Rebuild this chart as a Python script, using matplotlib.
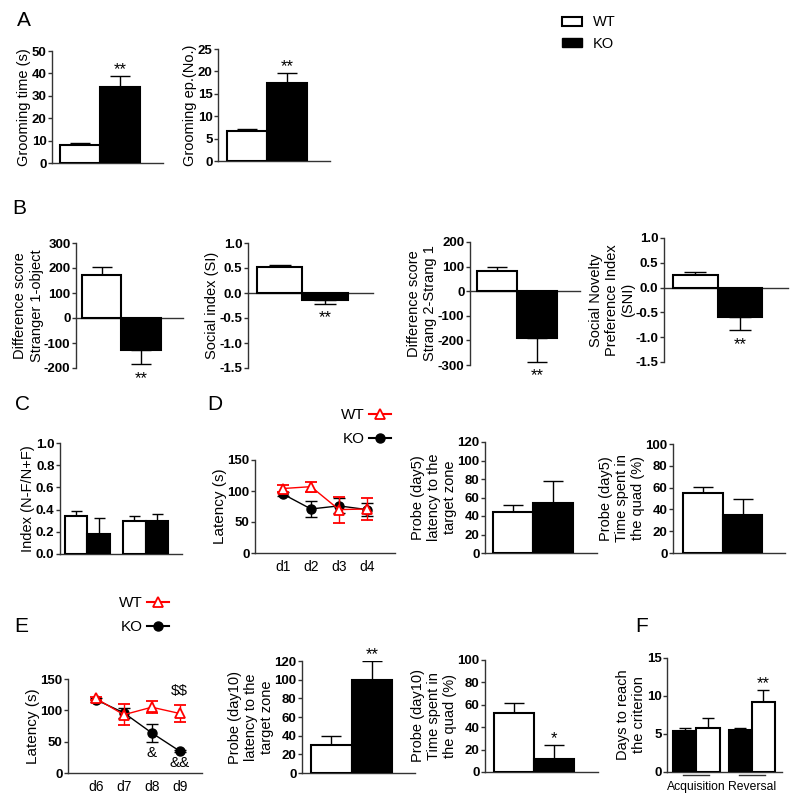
import numpy as np
import matplotlib
matplotlib.use('Agg')
import matplotlib.pyplot as plt
from matplotlib.lines import Line2D
from matplotlib.patches import Patch

plt.rcParams['font.family'] = ['Liberation Sans', 'DejaVu Sans']
plt.rcParams['axes.unicode_minus'] = False

groups = ['WT', 'KO']

# A - grooming
groom_time = [7.9, 34.0]
groom_time_err = [1.1, 4.8]
groom_ep = [6.6, 17.3]
groom_ep_err = [0.5, 2.3]

# B - three chamber test
diff_s1 = [172, -126]
diff_s1_err = [32, 59]
social_idx = [0.52, -0.14]
social_idx_err = [0.05, 0.08]
diff_s2 = [81, -192]
diff_s2_err = [18, 94]
sni = [0.26, -0.59]
sni_err = [0.06, 0.27]

# C - novel object index (two sessions, WT/KO each)
novel_idx = [0.344, 0.18, 0.30, 0.30]
novel_idx_err = [0.042, 0.14, 0.04, 0.06]

# D - water maze acquisition
days_acq = ['d1', 'd2', 'd3', 'd4']
lat_wt_acq = [104, 107, 70, 71]
lat_wt_acq_err = [5, 8, 21, 17]
lat_ko_acq = [95, 71, 76, 70]
lat_ko_acq_err = [3, 13, 12, 11]
probe5_lat = [44.3, 54.4]
probe5_lat_err = [7.2, 23.4]
probe5_quad = [54.6, 34.7]
probe5_quad_err = [6.1, 15.3]

# E - water maze reversal
days_rev = ['d6', 'd7', 'd8', 'd9']
lat_wt_rev = [119, 93, 105, 95]
lat_wt_rev_err = [3, 17, 10, 14]
lat_ko_rev = [117, 96, 64, 35]
lat_ko_rev_err = [3, 8, 14, 2]
probe10_lat = [30.4, 99.6]
probe10_lat_err = [9.4, 20.8]
probe10_quad = [52.8, 11.9]
probe10_quad_err = [9.0, 12.0]

# F - days to criterion
criterion = [5.43, 5.73, 5.51, 9.26]
criterion_err = [0.39, 1.42, 0.31, 1.54]
criterion_groups = ['Acquisition', 'Reversal']

W, H = 800, 800
fig = plt.figure(figsize=(8, 8), dpi=100)
SPINE = '#333333'
LAB = 10.5
STAR = 12


def px_axes(x0, x1, y0, y1):
    return fig.add_axes([x0 / W, 1 - y1 / H, (x1 - x0) / W, (y1 - y0) / H])


def style(ax, xlim, ylim, yticks, ylabel, lab=LAB):
    ax.set_xlim(*xlim)
    ax.set_ylim(*ylim)
    ax.set_yticks(yticks)
    for s in ['top', 'right']:
        ax.spines[s].set_visible(False)
    for s in ['left', 'bottom']:
        ax.spines[s].set_linewidth(1.0)
        ax.spines[s].set_color(SPINE)
    ax.spines['bottom'].set_position(('data', 0))
    ax.tick_params(axis='y', length=3, width=1, color=SPINE, labelsize=9.5, pad=1.0)
    ax.tick_params(axis='x', length=0)
    plt.setp(ax.get_yticklabels(), fontweight='bold')
    ax.set_ylabel(ylabel, fontsize=lab, labelpad=0.3)


def bars(ax, pos, vals, errs, colors, bar_px, stars=None):
    ax.bar(pos, vals, width=1.0, color=colors, edgecolor='black', linewidth=1.5, zorder=3)
    lo = [e if v < 0 else 0 for v, e in zip(vals, errs)]
    hi = [e if v >= 0 else 0 for v, e in zip(vals, errs)]
    ax.errorbar(pos, vals, yerr=[lo, hi], fmt='none', ecolor='black', elinewidth=1,
                capsize=bar_px / 4 * 0.72, capthick=1, zorder=2)
    ax.set_xticks([])
    if stars:
        for i, s in stars.items():
            v, e = vals[i], errs[i]
            if v >= 0:
                ax.annotate(s, (pos[i], v + e), xytext=(0, 4.5), textcoords='offset points',
                            ha='center', va='center', fontsize=STAR)
            else:
                ax.annotate(s, (pos[i], v - e), xytext=(0, -10), textcoords='offset points',
                            ha='center', va='center', fontsize=STAR)


def lines(ax, x, wt, wt_err, ko, ko_err, labels):
    ax.errorbar(x, ko, yerr=ko_err, color='black', marker='o', ms=6.5, lw=1,
                elinewidth=1, capsize=4, zorder=3)
    ax.errorbar(x, wt, yerr=wt_err, color='red', marker='^', ms=7, mfc='white',
                mec='red', mew=1.3, lw=1, elinewidth=1, capsize=4, zorder=4)
    ax.set_xticks(x)
    ax.set_xticklabels(labels, fontsize=11)
    ax.tick_params(axis='x', length=0, pad=5)


two = [0, 1]
wk = ['white', 'black']

# ---- A ----
ax = px_axes(52, 163, 51, 163)
bars(ax, two, groom_time, groom_time_err, wk, 40, {1: '**'})
style(ax, (-0.7, 2.075), (0, 50), [0, 10, 20, 30, 40, 50], 'Grooming time (s)')

ax = px_axes(218, 330, 49, 161)
bars(ax, two, groom_ep, groom_ep_err, wk, 40, {1: '**'})
style(ax, (-0.725, 2.075), (0, 25), [0, 5, 10, 15, 20, 25], 'Grooming ep.(No.)')

# ---- B ----
ax = px_axes(76, 183, 243, 368)
bars(ax, two, diff_s1, diff_s1_err, wk, 40, {1: '**'})
style(ax, (-0.65, 2.06), (-200, 300), [-200, -100, 0, 100, 200, 300],
      'Difference score\nStranger 1-object')

ax = px_axes(248, 373, 243, 368)
bars(ax, two, social_idx, social_idx_err, wk, 45, {1: '**'})
style(ax, (-0.7, 2.06), (-1.5, 1.0), [-1.5, -1.0, -0.5, 0.0, 0.5, 1.0], 'Social index (SI)')

ax = px_axes(470, 580, 242, 365)
bars(ax, two, diff_s2, diff_s2_err, wk, 40, {1: '**'})
style(ax, (-0.675, 2.075), (-300, 200), [-300, -200, -100, 0, 100, 200],
      'Difference score\nStrang 2-Strang 1')

ax = px_axes(664, 788, 238, 362)
bars(ax, two, sni, sni_err, wk, 44, {1: '**'})
style(ax, (-0.7, 2.08), (-1.5, 1.0), [-1.5, -1.0, -0.5, 0.0, 0.5, 1.0],
      'Social Novelty\nPreference Index\n(SNI)')

# ---- C ----
ax = px_axes(60, 182, 443, 554)
bars(ax, [0, 1, 2.58, 3.58], novel_idx, novel_idx_err, wk * 2, 22)
style(ax, (-0.72, 4.7), (0, 1.0), [0.0, 0.2, 0.4, 0.6, 0.8, 1.0], 'Index (N-F/N+F)')

# ---- D ----
ax = px_axes(255, 395, 460, 553)
lines(ax, [1, 2, 3, 4], lat_wt_acq, lat_wt_acq_err, lat_ko_acq, lat_ko_acq_err, days_acq)
style(ax, (0, 5), (0, 150), [0, 50, 100, 150], 'Latency (s)', 11)

ax = px_axes(485, 597, 442, 553)
bars(ax, two, probe5_lat, probe5_lat_err, wk, 40)
style(ax, (-0.7, 2.1), (0, 120), [0, 20, 40, 60, 80, 100, 120],
      'Probe (day5)\nlatency to the\ntarget zone')

ax = px_axes(673, 785, 444, 553)
bars(ax, two, probe5_quad, probe5_quad_err, wk, 40)
style(ax, (-0.75, 2.07), (0, 100), [0, 20, 40, 60, 80, 100],
      'Probe (day5)\nTime spent in\nthe quad (%)')

# ---- E ----
ax = px_axes(68, 202, 679, 773)
lines(ax, [1, 2, 3, 4], lat_wt_rev, lat_wt_rev_err, lat_ko_rev, lat_ko_rev_err, days_rev)
style(ax, (0, 4.8), (0, 150), [0, 50, 100, 150], 'Latency (s)', 11)
ax.annotate(r'\$\$', (4, lat_wt_rev[3] + lat_wt_rev_err[3]), xytext=(0, 10),
            textcoords='offset points', ha='center', va='center', fontsize=11)
ax.annotate('&', (3, lat_ko_rev[2] - lat_ko_rev_err[2]), xytext=(0, -8),
            textcoords='offset points', ha='center', va='center', fontsize=11)
ax.annotate('&&', (4, lat_ko_rev[3] - lat_ko_rev_err[3]), xytext=(0, -8),
            textcoords='offset points', ha='center', va='center', fontsize=11)

ax = px_axes(302, 415, 661, 773)
bars(ax, two, probe10_lat, probe10_lat_err, wk, 40, {1: '**'})
style(ax, (-0.72, 2.06), (0, 120), [0, 20, 40, 60, 80, 100, 120],
      'Probe (day10)\nlatency to the\ntarget zone')

ax = px_axes(485, 598, 660, 772)
bars(ax, two, probe10_quad, probe10_quad_err, wk, 40, {1: '*'})
style(ax, (-0.72, 2.1), (0, 100), [0, 20, 40, 60, 80, 100],
      'Probe (day10)\nTime spent in\nthe quad (%)')

# ---- F ----
fpos = [0, 1, 2.39, 3.39]
ax = px_axes(667, 782, 658, 772)
bars(ax, fpos, criterion, criterion_err, ['black', 'white'] * 2, 23, {3: '**'})
style(ax, (-0.76, 4.19), (0, 15), [0, 5, 10, 15], 'Days to reach\nthe criterion')
tr = ax.get_xaxis_transform()
for c, name in zip([(fpos[0] + fpos[1]) / 2, (fpos[2] + fpos[3]) / 2], criterion_groups):
    ax.plot([c - 0.55, c + 0.55], [-0.03, -0.03], transform=tr, color=SPINE, lw=1, clip_on=False)
    ax.text(c, -0.13, name, transform=tr, ha='center', va='center', fontsize=8.7)

# ---- legends ----
fig.legend(handles=[Patch(facecolor='white', edgecolor='black', lw=1.5),
                    Patch(facecolor='black', edgecolor='black')],
           labels=groups, loc='center left', bbox_to_anchor=(562 / W, 1 - 33 / H),
           frameon=False, fontsize=LAB, borderpad=0, borderaxespad=0, handlelength=1.4,
           handleheight=0.6, handletextpad=0.7, labelspacing=0.5)

line_handles = [Line2D([], [], color='red', marker='^', ms=7, mfc='white', mec='red', mew=1.3, lw=1.5),
                Line2D([], [], color='black', marker='o', ms=6.5, lw=1.5)]
for xr, yc in [(391, 427), (169, 615)]:
    fig.legend(handles=line_handles, labels=groups, loc='center right',
               bbox_to_anchor=(xr / W, 1 - yc / H), frameon=False, fontsize=11,
               borderpad=0, borderaxespad=0, markerfirst=False, handlelength=1.45,
               handletextpad=0.25, labelspacing=0.65)

for letter, x, y in [('A', 24, 20), ('B', 19, 208), ('C', 23, 405), ('D', 215, 405),
                     ('E', 21, 627), ('F', 642, 627)]:
    fig.text(x / W, 1 - y / H, letter, fontsize=15, ha='center', va='center')

fig.savefig('out.png', dpi=100)
